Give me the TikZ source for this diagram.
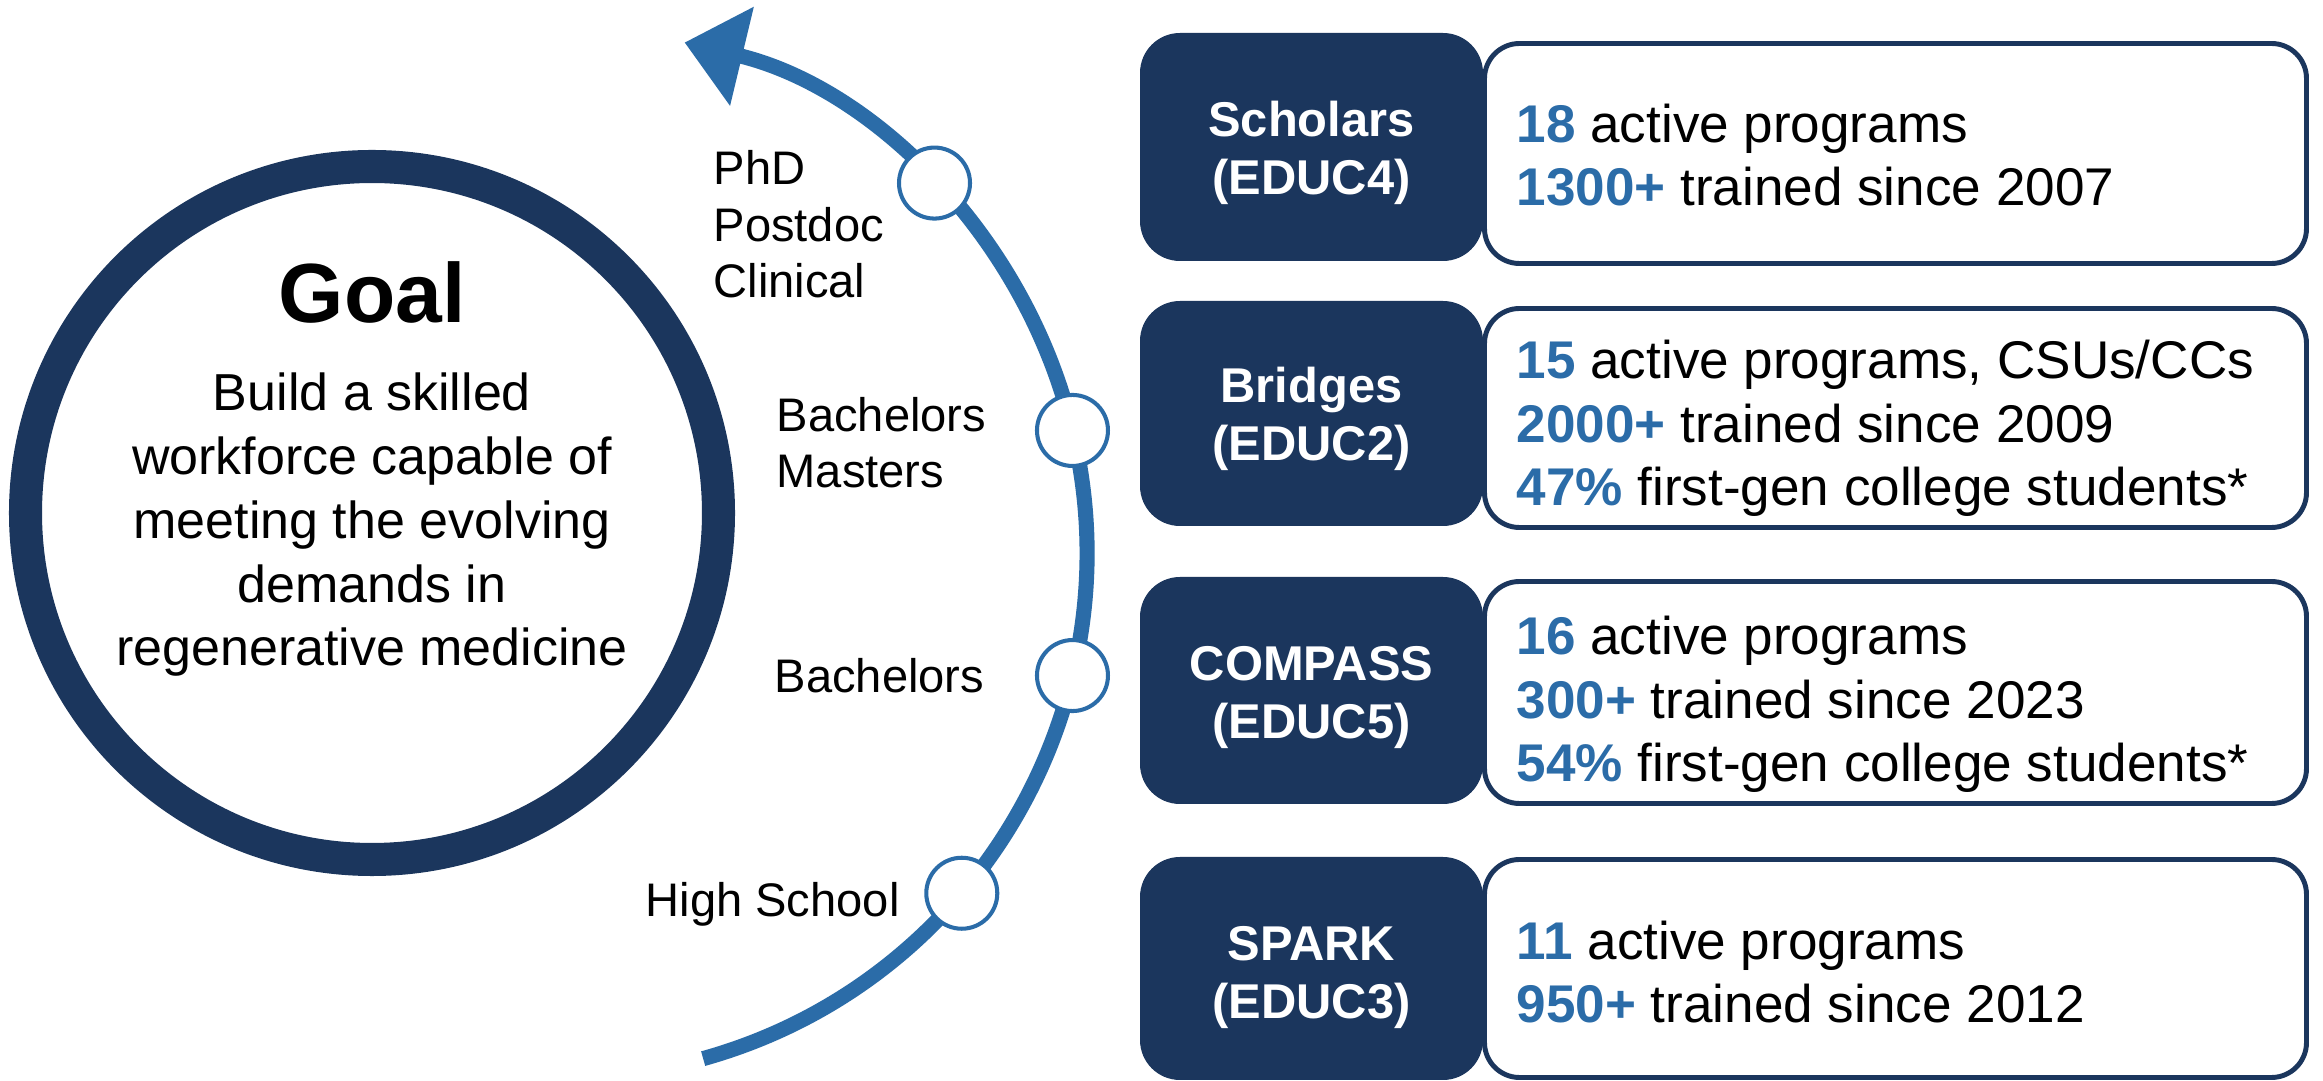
\documentclass[tikz,border=0pt]{standalone}
\usepackage{fontspec}
\setmainfont{Liberation Sans}
\usetikzlibrary{arrows.meta}
\definecolor{navy}{HTML}{1B365D}
\definecolor{accent}{HTML}{2B6CA8}
\newcommand\bnum[1]{\textcolor{accent}{\textbf{#1}}}
\begin{document}
\begin{tikzpicture}[x=0.1mm,y=0.1mm,
  goalring/.style={circle, draw=navy, line width=9.4pt, minimum size=69.3mm, inner sep=0},
  goaltitle/.style={font=\fontsize{23.9pt}{28pt}\selectfont\bfseries, inner sep=0},
  goalbody/.style={font=\fontsize{14.8pt}{18.2pt}\selectfont, align=center, inner sep=0},
  stage/.style={font=\fontsize{13.4pt}{16.2pt}\selectfont, align=left, inner sep=0},
  progbox/.style={fill=navy, rounded corners=4mm, minimum width=34.3mm, inner sep=0},
  proglabel/.style={text=white, font=\fontsize{13.9pt}{16.7pt}\selectfont\bfseries, align=center, inner sep=0},
  statbox/.style={draw=navy, line width=1.4pt, fill=white, rounded corners=3.5mm, minimum width=82.2mm, inner sep=0},
  stattext/.style={font=\fontsize{15.1pt}{18.2pt}\selectfont, align=left, inner sep=0},
  marker/.style={circle, draw=accent, line width=1.15pt, fill=white, minimum size=7.1mm, inner sep=0},
  track/.style={draw=accent, line width=4.3pt, -{Triangle[length=16.8pt,width=27.9pt]}}
]
\fill[white] (0,0) rectangle (2323,1081);
\useasboundingbox (0,0) rectangle (2323,1081);

% Goal circle
\node[goalring] (goal) at (372,568) {};
\node[goaltitle, anchor=base] (goalt) at (372,758) {Goal};
\node[goalbody, anchor=base] (goalb) at (372,415) {Build a skilled\\workforce capable of\\meeting the evolving\\demands in\\regenerative medicine};

% Track arc
\coordinate (C) at (562,528);
\draw[track] (C) ++(-74.4:525) coordinate (tstart) arc[start angle=-74.4, end angle=76.5, radius=525] coordinate (tend);
\path (C) ++(44.8:525) node[marker] (m1) {};
\path (C) ++(13.5:525) node[marker] (m2) {};
\path (C) ++(-13.5:525) node[marker] (m3) {};
\path (C) ++(-40.4:525) node[marker] (m4) {};

% Stage labels
\node[stage, anchor=base west] (l1) at (713,783) {PhD\\Postdoc\\Clinical};
\node[stage, anchor=base west] (l2) at (776,593) {Bachelors\\Masters};
\node[stage, anchor=base west] (l3) at (774,388) {Bachelors};
\node[stage, anchor=base west] (l4) at (645,164) {High School};

% Program boxes
\node[progbox, minimum height=22.8mm] (p1) at (1311.5,934) {};
\node[progbox, minimum height=22.5mm] (p2) at (1311.5,667.5) {};
\node[progbox, minimum height=22.7mm] (p3) at (1311.5,390.5) {};
\node[progbox, minimum height=22.3mm] (p4) at (1311.5,112.5) {};

\node[statbox, minimum height=22.0mm] (s1) at (1895.5,927.5) {};
\node[statbox, minimum height=21.9mm] (s2) at (1895.5,663) {};
\node[statbox, minimum height=22.2mm] (s3) at (1895.5,388.5) {};
\node[statbox, minimum height=21.8mm] (s4) at (1895.5,112.5) {};

\node[proglabel, anchor=base] (pl1) at (1311.5,886) {Scholars\\(EDUC4)};
\node[proglabel, anchor=base] (pl2) at (1311.5,620) {Bridges\\(EDUC2)};
\node[proglabel, anchor=base] (pl3) at (1311.5,342) {COMPASS\\(EDUC5)};
\node[proglabel, anchor=base] (pl4) at (1311.5,62) {SPARK\\(EDUC3)};

\node[stattext, anchor=base west] (st1) at (1516,875) {\bnum{18} active programs\\\bnum{1300+} trained since 2007};
\node[stattext, anchor=base west] (st2) at (1516,575) {\bnum{15} active programs, CSUs/CCs\\\bnum{2000+} trained since 2009\\\bnum{47\%} first-gen college students*};
\node[stattext, anchor=base west] (st3) at (1516,299) {\bnum{16} active programs\\\bnum{300+} trained since 2023\\\bnum{54\%} first-gen college students*};
\node[stattext, anchor=base west] (st4) at (1516,58) {\bnum{11} active programs\\\bnum{950+} trained since 2012};
\end{tikzpicture}
\end{document}
